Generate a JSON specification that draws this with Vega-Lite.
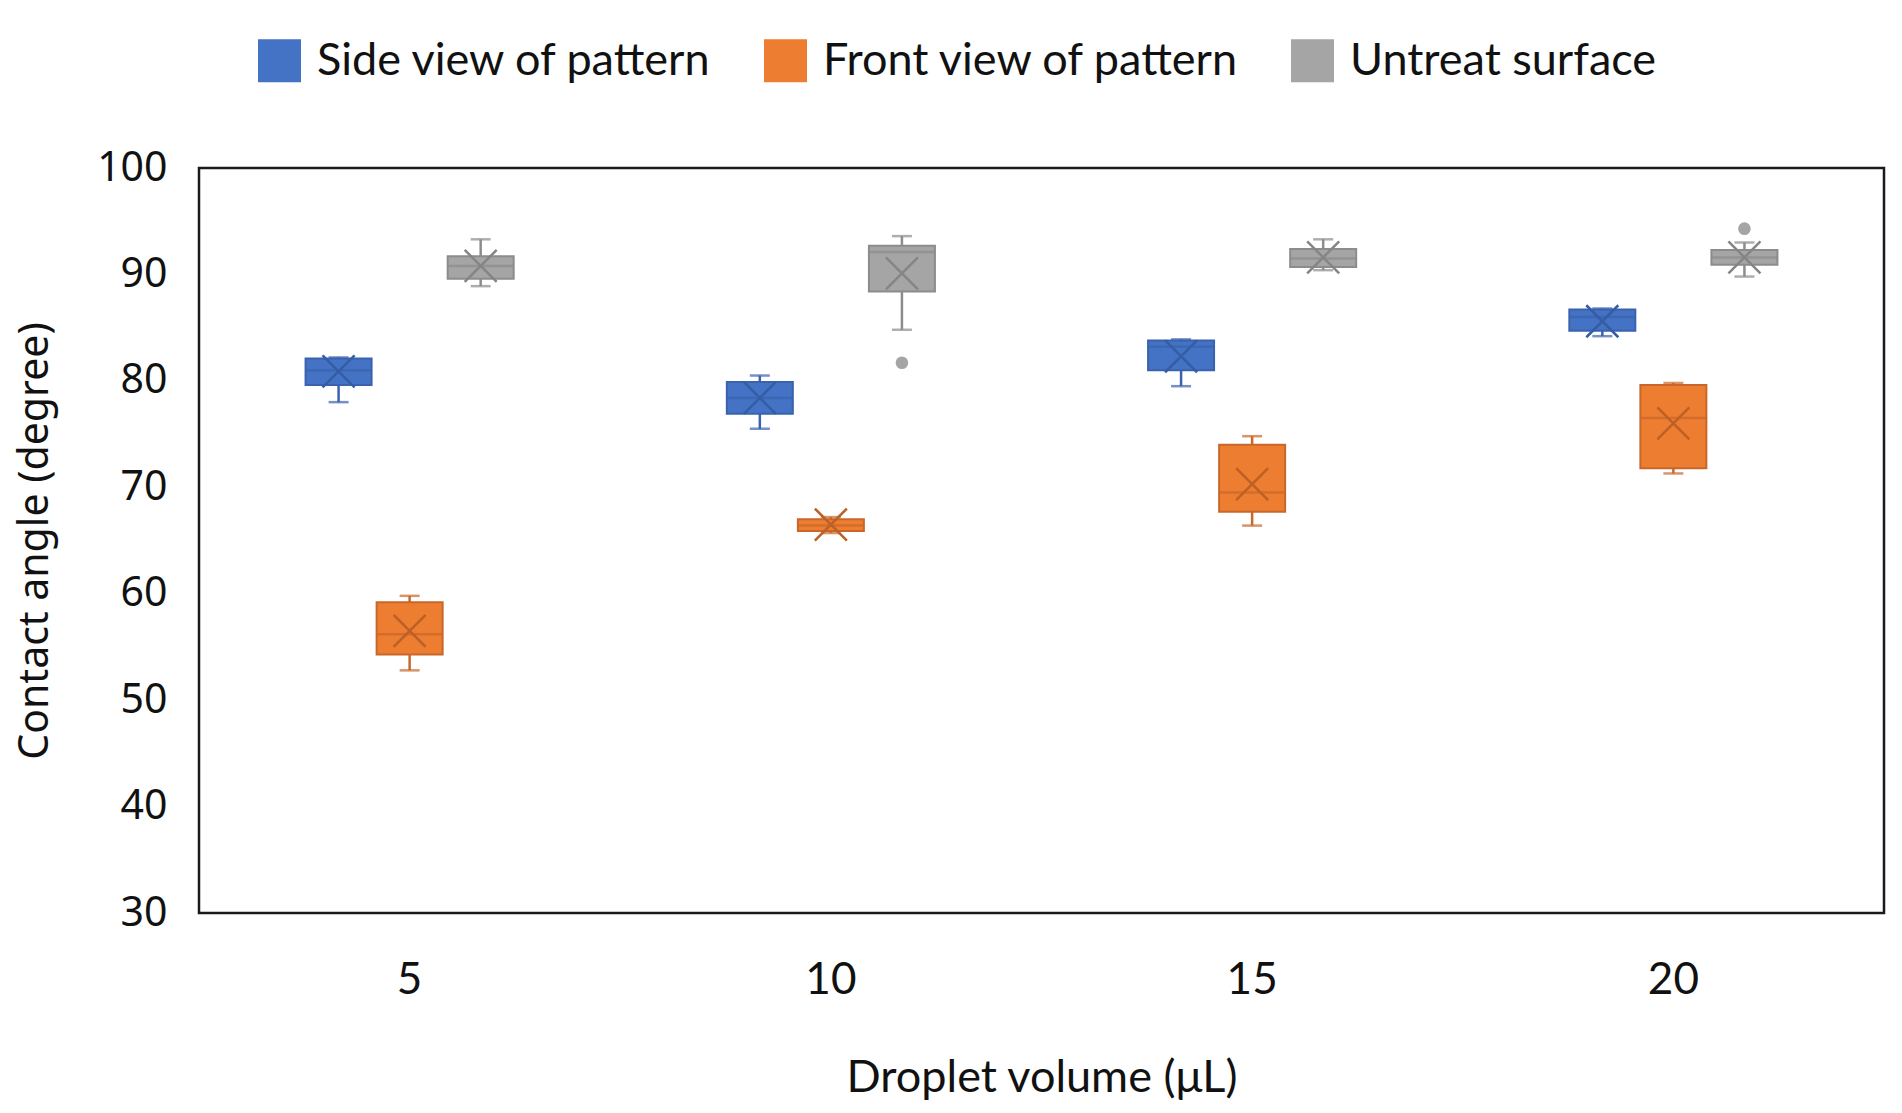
{
  "$schema": "https://vega.github.io/schema/vega-lite/v6.json",
  "width": 1685,
  "height": 745,
  "autosize": {"type": "none"},
  "padding": {"left": 199, "top": 168, "right": 18, "bottom": 200},
  "background": "white",
  "config": {
    "view": {"stroke": "#1a1a1a", "strokeWidth": 2.5},
    "axis": {"domain": false, "ticks": false, "grid": false, "labelColor": "#111", "titleColor": "#111"}
  },
  "datasets": {
    "boxes": [
      {"vol": 5, "series": "Side view of pattern", "min": 78.0, "q1": 79.6, "median": 81.0, "q3": 82.1, "max": 82.2, "mean": 80.9},
      {"vol": 5, "series": "Front view of pattern", "min": 52.8, "q1": 54.3, "median": 56.2, "q3": 59.2, "max": 59.8, "mean": 56.5},
      {"vol": 5, "series": "Untreat surface", "min": 88.9, "q1": 89.6, "median": 90.8, "q3": 91.7, "max": 93.3, "mean": 90.8},
      {"vol": 10, "series": "Side view of pattern", "min": 75.5, "q1": 76.9, "median": 78.4, "q3": 79.9, "max": 80.5, "mean": 78.4},
      {"vol": 10, "series": "Front view of pattern", "min": 65.7, "q1": 65.9, "median": 66.4, "q3": 67.0, "max": 67.2, "mean": 66.5},
      {"vol": 10, "series": "Untreat surface", "min": 84.8, "q1": 88.4, "median": 92.1, "q3": 92.7, "max": 93.6, "mean": 90.1},
      {"vol": 15, "series": "Side view of pattern", "min": 79.5, "q1": 81.0, "median": 83.2, "q3": 83.8, "max": 83.9, "mean": 82.3},
      {"vol": 15, "series": "Front view of pattern", "min": 66.4, "q1": 67.7, "median": 69.5, "q3": 74.0, "max": 74.8, "mean": 70.3},
      {"vol": 15, "series": "Untreat surface", "min": 90.4, "q1": 90.7, "median": 91.5, "q3": 92.4, "max": 93.3, "mean": 91.6},
      {"vol": 20, "series": "Side view of pattern", "min": 84.2, "q1": 84.7, "median": 86.0, "q3": 86.7, "max": 86.8, "mean": 85.6},
      {"vol": 20, "series": "Front view of pattern", "min": 71.3, "q1": 71.8, "median": 76.5, "q3": 79.6, "max": 79.8, "mean": 76.0},
      {"vol": 20, "series": "Untreat surface", "min": 89.8, "q1": 90.9, "median": 91.6, "q3": 92.3, "max": 93.0, "mean": 91.6}
    ],
    "outliers": [
      {"vol": 10, "series": "Untreat surface", "value": 81.7},
      {"vol": 20, "series": "Untreat surface", "value": 94.3}
    ]
  },
  "data": {"name": "boxes"},
  "encoding": {
    "x": {
      "field": "vol", "type": "ordinal",
      "scale": {"paddingInner": 0.494, "paddingOuter": 0.247},
      "title": "Droplet volume (μL)",
      "axis": {"labelAngle": 0, "labelFont": "Lato", "labelFontSize": 44, "labelPadding": 45,
               "titleFont": "Lato", "titleFontSize": 45, "titleFontWeight": "normal", "titlePadding": 53}
    },
    "xOffset": {
      "field": "series", "type": "nominal",
      "scale": {"domain": ["Side view of pattern", "Front view of pattern", "Untreat surface"], "paddingInner": 0, "paddingOuter": 0}
    }
  },
  "layer": [
    {
      "mark": {"type": "rule", "strokeWidth": 2.5},
      "encoding": {
        "y": {"field": "min", "type": "quantitative", "scale": {"domain": [30, 100], "nice": false, "zero": false},
              "title": "Contact angle (degree)",
              "axis": {"values": [30, 40, 50, 60, 70, 80, 90, 100], "labelFont": "Noto Sans", "labelFontSize": 41,
                       "labelPadding": 32, "labelFlush": false, "labelOverlap": false,
                       "titleFont": "Noto Sans", "titleFontSize": 41, "titleFontWeight": "normal", "titlePadding": 40}},
        "y2": {"field": "max"},
        "stroke": {"condition": [{"test": "datum.series === 'Side view of pattern'", "value": "#3A62AD"}, {"test": "datum.series === 'Front view of pattern'", "value": "#C9672A"}], "value": "#8C8C8C"}
      }
    },
    {
      "mark": {"type": "bar", "width": 66, "opacity": 1},
      "encoding": {
        "y": {"field": "q1", "type": "quantitative"},
        "y2": {"field": "q3"},
        "color": {"field": "series", "type": "nominal",
                  "scale": {"domain": ["Side view of pattern", "Front view of pattern", "Untreat surface"], "range": ["#4472C4", "#ED7D31", "#A5A5A5"]},
                  "legend": {"orient": "none", "legendX": 58, "legendY": -130, "direction": "horizontal", "columns": 3,
                             "title": null, "symbolType": "square", "symbolSize": 1849, "symbolStrokeWidth": 0, "symbolOpacity": 1,
                             "labelFont": "Lato", "labelFontSize": 45, "labelColor": "#111", "labelOffset": 15, "columnPadding": 50, "labelLimit": 600}},
        "stroke": {"condition": [{"test": "datum.series === 'Side view of pattern'", "value": "#3A62AD"}, {"test": "datum.series === 'Front view of pattern'", "value": "#C9672A"}], "value": "#8C8C8C"},
        "strokeWidth": {"value": 2}
      }
    },
    {
      "mark": {"type": "tick", "size": 66, "thickness": 2.5},
      "encoding": {
        "y": {"field": "median", "type": "quantitative"},
        "color": {"condition": [{"test": "datum.series === 'Side view of pattern'", "value": "#3A62AD"}, {"test": "datum.series === 'Front view of pattern'", "value": "#C9672A"}], "value": "#8C8C8C"}
      }
    },
    {
      "mark": {"type": "tick", "size": 20, "thickness": 2.5},
      "encoding": {
        "y": {"field": "min", "type": "quantitative"},
        "color": {"condition": [{"test": "datum.series === 'Side view of pattern'", "value": "#3A62AD"}, {"test": "datum.series === 'Front view of pattern'", "value": "#C9672A"}], "value": "#8C8C8C"}
      }
    },
    {
      "mark": {"type": "tick", "size": 20, "thickness": 2.5},
      "encoding": {
        "y": {"field": "max", "type": "quantitative"},
        "color": {"condition": [{"test": "datum.series === 'Side view of pattern'", "value": "#3A62AD"}, {"test": "datum.series === 'Front view of pattern'", "value": "#C9672A"}], "value": "#8C8C8C"}
      }
    },
    {
      "mark": {"type": "point", "shape": "M-1,-1L1,1M-1,1L1,-1", "size": 1024, "filled": false, "strokeWidth": 2.5, "opacity": 1},
      "encoding": {
        "y": {"field": "mean", "type": "quantitative"},
        "stroke": {"condition": [{"test": "datum.series === 'Side view of pattern'", "value": "#345DA6"}, {"test": "datum.series === 'Front view of pattern'", "value": "#BD6026"}], "value": "#858585"}
      }
    },
    {
      "data": {"name": "outliers"},
      "mark": {"type": "circle", "size": 160, "opacity": 1},
      "encoding": {
        "y": {"field": "value", "type": "quantitative"},
        "color": {"field": "series", "type": "nominal"}
      }
    }
  ]
}
